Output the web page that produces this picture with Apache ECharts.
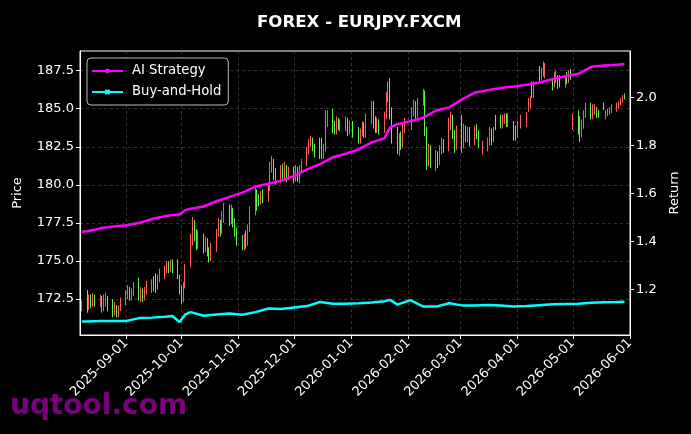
<!DOCTYPE html>
<html><head><meta charset="utf-8">
<script src="https://cdn.jsdelivr.net/npm/echarts@6/dist/echarts.min.js"></script>
<style>html,body{margin:0;padding:0;background:#000}#c{width:691px;height:434px}</style>
</head><body><div id="c"></div><script>
const candleDates=['2025-08-08',
'2025-08-11','2025-08-12','2025-08-13','2025-08-14','2025-08-15',
'2025-08-18','2025-08-19','2025-08-20','2025-08-21','2025-08-22',
'2025-08-25','2025-08-26','2025-08-27','2025-08-28','2025-08-29',
'2025-09-01','2025-09-02','2025-09-03','2025-09-04','2025-09-05',
'2025-09-08','2025-09-09','2025-09-10','2025-09-11','2025-09-12',
'2025-09-15','2025-09-16','2025-09-17','2025-09-18','2025-09-19',
'2025-09-22','2025-09-23','2025-09-24','2025-09-25','2025-09-26',
'2025-09-29','2025-09-30','2025-10-01','2025-10-02','2025-10-03',
'2025-10-06','2025-10-07','2025-10-08','2025-10-09','2025-10-10',
'2025-10-13','2025-10-14','2025-10-15','2025-10-16','2025-10-17',
'2025-10-20','2025-10-21','2025-10-22','2025-10-23','2025-10-24',
'2025-10-27','2025-10-28','2025-10-29','2025-10-30','2025-10-31',
'2025-11-03','2025-11-04','2025-11-05','2025-11-06','2025-11-07',
'2025-11-10','2025-11-11','2025-11-12','2025-11-13','2025-11-14',
'2025-11-17','2025-11-18','2025-11-19','2025-11-20','2025-11-21',
'2025-11-24','2025-11-25','2025-11-26','2025-11-27','2025-11-28',
'2025-12-01','2025-12-02','2025-12-03','2025-12-04','2025-12-05',
'2025-12-08','2025-12-09','2025-12-10','2025-12-11','2025-12-12',
'2025-12-15','2025-12-16','2025-12-17','2025-12-18','2025-12-19',
'2025-12-22','2025-12-23','2025-12-24','2025-12-25','2025-12-26',
'2025-12-29','2025-12-30','2025-12-31','2026-01-02',
'2026-01-05','2026-01-06','2026-01-07','2026-01-08','2026-01-09',
'2026-01-12','2026-01-13','2026-01-14','2026-01-15','2026-01-16',
'2026-01-19','2026-01-20','2026-01-21','2026-01-22','2026-01-23',
'2026-01-26','2026-01-27','2026-01-28','2026-01-29','2026-01-30',
'2026-02-03','2026-02-04','2026-02-05','2026-02-06',
'2026-02-09','2026-02-10','2026-02-11','2026-02-12','2026-02-13',
'2026-02-16','2026-02-17','2026-02-18','2026-02-19','2026-02-20',
'2026-02-23','2026-02-24','2026-02-25','2026-02-26','2026-02-27',
'2026-03-02','2026-03-03','2026-03-04','2026-03-05','2026-03-06',
'2026-03-09','2026-03-10','2026-03-11','2026-03-13',
'2026-03-16','2026-03-17','2026-03-18','2026-03-19','2026-03-20',
'2026-03-23','2026-03-24','2026-03-25','2026-03-26','2026-03-27',
'2026-03-30','2026-03-31','2026-04-01','2026-04-03',
'2026-04-06','2026-04-07','2026-04-08','2026-04-09','2026-04-10',
'2026-04-13','2026-04-14','2026-04-15','2026-04-16',
'2026-04-20','2026-04-21','2026-04-22','2026-04-23','2026-04-24',
'2026-04-27','2026-04-28','2026-04-29','2026-04-30','2026-05-01',
'2026-05-04','2026-05-05','2026-05-06','2026-05-07','2026-05-08',
'2026-05-11','2026-05-12','2026-05-13','2026-05-14','2026-05-15',
'2026-05-18','2026-05-19','2026-05-20','2026-05-21','2026-05-22',
'2026-05-25','2026-05-26','2026-05-27','2026-05-28','2026-05-29'];
const opens=[171.85,
173.0,171.9,172.6,172.1,172.7,
172.2,172.6,171.9,172.3,172.6,
172.3,171.6,172.0,171.5,171.8,
172.3,172.7,173.2,172.6,172.9,
173.8,172.6,173.1,172.6,173.0,
173.2,173.8,173.9,173.3,173.8,
174.0,174.4,174.8,174.5,175.0,
175.0,174.0,173.2,172.5,173.4,
174.8,176.3,177.5,176.8,176.0,
176.6,175.9,176.4,175.7,175.2,
175.8,176.8,177.5,177.0,177.8,
178.4,177.7,178.3,177.6,177.0,
176.5,175.9,176.7,176.2,177.1,
178.2,179.5,179.2,178.9,179.5,
179.1,179.8,181.0,181.5,180.8,
180.3,181.1,180.5,181.1,180.5,
181.0,180.4,181.0,180.5,181.0,
181.4,182.2,182.7,183.0,182.5,
183.0,182.8,181.9,182.4,184.0,
184.8,183.9,183.5,184.2,183.8,
183.8,184.2,183.5,184.0,
183.6,182.9,183.4,183.9,183.3,
184.2,185.3,184.3,183.6,184.1,
183.6,184.5,185.6,186.7,184.9,
183.5,182.3,183.2,182.6,183.7,
183.9,184.7,185.3,184.6,
185.4,186.0,183.6,181.5,182.4,
181.2,182.0,181.5,182.2,182.8,
182.4,184.0,184.4,183.4,182.5,
184.4,182.6,183.7,183.0,183.6,
182.9,183.7,183.4,182.2,
182.4,182.8,183.5,183.0,184.3,
184.4,183.9,184.2,184.5,184.0,
184.0,183.6,183.3,184.0,
184.0,184.9,185.2,186.6,185.9,
187.6,187.1,187.3,187.2,
186.8,186.6,186.9,187.0,187.0,
186.6,187.2,186.9,187.4,183.8,
184.7,184.2,183.3,183.9,184.6,
185.2,184.5,184.8,185.0,184.8,
185.3,184.4,184.6,184.7,184.8,
184.9,185.1,185.3,185.5,185.9];
const closes=[172.2,
171.8,172.6,172.1,172.7,172.2,
172.6,171.9,172.5,172.7,172.0,
171.6,172.1,171.5,171.9,172.4,
172.9,173.3,172.6,173.0,173.4,
172.6,173.1,172.6,173.2,173.5,
173.7,173.3,173.2,173.9,174.3,
174.6,174.8,174.5,175.0,174.4,
174.0,173.0,172.4,173.4,174.6,
176.5,177.6,176.6,175.9,176.7,
175.8,176.4,175.6,175.1,176.0,
176.9,177.6,176.9,178.0,178.5,
177.7,178.4,177.5,176.9,176.3,
175.9,176.6,176.1,177.2,178.3,
179.4,178.6,178.8,179.4,179.0,
179.8,181.2,181.7,180.6,180.2,
181.0,180.5,181.2,180.4,181.0,
180.4,181.0,180.5,181.1,181.5,
182.3,182.8,183.0,182.4,182.0,
182.0,181.9,182.5,184.3,184.6,
183.6,183.5,184.3,183.8,184.1,
184.3,183.5,184.0,183.4,
182.9,183.5,184.0,183.3,184.5,
185.2,183.9,183.6,184.2,183.5,
184.6,185.8,186.5,184.8,183.0,
182.3,183.2,182.6,183.8,184.2,
184.8,185.3,184.6,185.4,
186.0,183.5,181.5,182.4,181.6,
182.0,181.4,182.3,182.8,182.3,
184.1,184.5,183.3,182.4,183.6,
182.6,183.7,183.0,183.6,182.8,
183.7,183.2,182.6,182.7,
182.9,183.5,182.9,183.6,183.8,
183.9,184.4,184.5,184.0,184.5,
183.1,183.0,183.9,184.4,
184.6,185.5,185.6,185.9,186.5,
187.0,187.5,187.9,187.8,
186.4,187.2,187.3,186.5,186.6,
187.0,186.8,187.3,187.0,184.5,
183.5,183.2,184.0,184.7,185.0,
184.5,185.1,185.2,184.6,184.5,
185.0,184.7,184.9,185.0,185.1,
185.2,185.4,185.6,185.8,185.7];
const lows=[171.7,
171.6,171.8,171.9,172.0,172.0,
172.0,171.6,171.7,172.0,171.7,
171.3,171.4,171.3,171.3,171.7,
172.1,172.5,172.4,172.4,172.7,
172.4,172.3,172.3,172.4,172.8,
172.9,173.0,172.9,173.1,173.6,
173.8,174.2,174.2,174.3,174.2,
173.8,172.8,172.2,172.3,173.2,
174.6,176.0,176.3,175.7,175.8,
175.5,175.6,175.3,174.9,175.0,
175.6,176.6,176.6,176.8,177.5,
177.3,177.4,177.2,176.6,176.0,
175.7,175.7,175.8,176.0,176.9,
178.0,178.3,178.6,178.7,178.8,
178.9,179.6,180.8,180.3,180.0,
180.1,180.3,180.3,180.2,180.3,
180.1,180.2,180.2,180.1,180.8,
181.2,182.0,182.5,182.2,181.8,
181.7,181.7,181.7,182.2,183.8,
183.4,183.3,183.3,183.6,183.5,
183.5,183.2,183.3,183.1,
182.7,182.7,183.2,183.1,183.1,
184.0,183.7,183.4,183.4,183.3,
183.4,184.3,185.4,184.3,182.7,
182.0,181.9,182.3,182.4,183.4,
183.6,184.5,184.3,184.4,
185.2,183.2,181.0,181.2,181.1,
180.9,181.1,181.3,182.0,182.1,
182.2,183.6,183.0,182.1,182.3,
182.1,182.4,182.8,182.8,182.5,
182.6,183.0,182.4,182.0,
182.2,182.6,182.6,182.8,183.6,
183.7,183.7,184.0,183.8,183.8,
182.9,182.9,183.1,183.7,
183.8,184.8,185.0,185.7,185.7,
186.8,186.9,187.1,187.0,
186.2,186.4,186.7,186.3,186.4,
186.4,186.6,186.7,186.9,183.6,
183.3,182.8,183.1,183.7,184.4,
184.3,184.3,184.6,184.4,184.4,
184.9,184.3,184.5,184.6,184.7,
184.8,185.0,185.2,185.4,185.6];
const highs=[172.4,
173.1,172.8,172.8,172.9,172.8,
172.8,172.7,172.8,172.9,172.7,
172.5,172.3,172.1,172.1,172.6,
173.1,173.4,173.3,173.2,173.6,
173.9,173.3,173.2,173.3,173.7,
173.8,174.0,174.2,174.1,174.5,
174.7,175.0,175.0,175.1,175.1,
175.1,174.1,173.4,173.6,174.8,
176.8,177.9,177.7,177.1,177.0,
176.8,176.6,176.5,175.9,176.2,
177.1,177.8,177.7,178.3,178.8,
178.7,178.7,178.5,177.8,177.2,
176.7,176.8,177.0,177.4,178.6,
179.8,179.7,179.4,179.6,179.7,
180.0,181.5,181.9,181.7,181.1,
181.3,181.4,181.5,181.3,181.2,
181.2,181.3,181.2,181.3,181.7,
182.5,183.0,183.2,183.1,182.7,
183.1,183.1,182.7,184.9,184.9,
185.0,184.2,184.5,184.4,184.3,
184.5,184.4,184.2,184.2,
183.8,183.7,184.2,184.1,184.7,
185.5,185.5,184.5,184.4,184.3,
184.8,186.1,186.8,187.0,185.1,
183.8,183.4,183.5,184.0,184.4,
185.1,185.6,185.5,185.7,
186.3,186.2,183.8,182.7,182.6,
182.3,182.2,182.6,183.1,183.0,
184.4,184.8,184.6,183.6,183.9,
184.6,184.0,183.9,183.8,183.8,
183.9,184.0,183.6,182.9,
183.1,183.8,183.7,183.8,184.6,
184.6,184.6,184.7,184.7,184.7,
184.2,183.9,184.2,184.6,
184.8,185.7,185.8,186.8,186.8,
187.8,187.7,188.1,188.0,
186.9,187.4,187.5,187.2,187.2,
187.2,187.4,187.5,187.6,184.7,
184.9,184.5,184.3,184.9,185.4,
185.4,185.3,185.3,185.1,184.9,
185.4,184.9,185.0,185.1,185.3,
185.4,185.5,185.7,185.9,186.0];
const lineDates=['2025-08-08','2025-08-11','2025-08-18','2025-08-25','2025-09-01','2025-09-08','2025-09-15','2025-09-22','2025-09-26','2025-09-30','2025-10-03','2025-10-06','2025-10-13','2025-10-20','2025-10-27','2025-11-03','2025-11-10','2025-11-17','2025-11-24','2025-12-01','2025-12-08','2025-12-15','2025-12-22','2025-12-29','2026-01-05','2026-01-12','2026-01-19','2026-01-22','2026-01-26','2026-02-02','2026-02-09','2026-02-16','2026-02-23','2026-03-02','2026-03-09','2026-03-16','2026-03-23','2026-03-30','2026-04-06','2026-04-13','2026-04-20','2026-04-27','2026-05-04','2026-05-11','2026-05-18','2026-05-25','2026-05-29'];
const aiReturn=[1.440,1.442,1.454,1.462,1.467,1.476,1.493,1.505,1.509,1.512,1.530,1.536,1.545,1.567,1.585,1.603,1.628,1.640,1.652,1.672,1.700,1.722,1.750,1.765,1.783,1.812,1.830,1.875,1.888,1.900,1.915,1.945,1.958,1.992,2.020,2.030,2.039,2.045,2.052,2.062,2.075,2.088,2.098,2.127,2.133,2.136,2.139];
const bhReturn=[1.066,1.066,1.068,1.068,1.068,1.080,1.082,1.086,1.089,1.064,1.095,1.105,1.090,1.095,1.099,1.094,1.105,1.120,1.118,1.124,1.130,1.147,1.140,1.140,1.142,1.145,1.150,1.156,1.136,1.155,1.128,1.128,1.142,1.133,1.133,1.135,1.133,1.128,1.130,1.134,1.138,1.139,1.140,1.144,1.146,1.147,1.148];
const monthTicks=['2025-09-01','2025-10-01','2025-11-01','2025-12-01','2026-01-01','2026-02-01','2026-03-01','2026-04-01','2026-05-01','2026-06-01'];
const priceTicks=[172.5,175.0,177.5,180.0,182.5,185.0,187.5];
const returnTicks=[1.2,1.4,1.6,1.8,2.0];

const ts=d=>{const p=d.split('-');return Date.UTC(+p[0],+p[1]-1,+p[2]);};
const fmt=v=>{const t=new Date(v);const m=t.getUTCMonth()+1,dd=t.getUTCDate();return t.getUTCFullYear()+'-'+(m<10?'0':'')+m+'-'+(dd<10?'0':'')+dd;};
const monthTs=monthTicks.map(ts);
const FONT='DejaVu Sans';
const FS=13;
const chart=echarts.init(document.getElementById('c'),null,{renderer:'canvas'});
const tickStyle={show:true,length:4,lineStyle:{color:'#fff',width:1}};
const gridLine={show:true,lineStyle:{color:'#555',type:[3,3],width:0.6}};
chart.setOption({
  backgroundColor:'#000',
  animation:false,
  title:{text:'FOREX - EURJPY.FXCM',left:252,top:9,textStyle:{color:'#fff',fontFamily:FONT,fontWeight:'bold',fontSize:16.6}},
  legend:{
    orient:'vertical',left:87,top:58,padding:[5,7,5,4],itemGap:5,itemWidth:31,itemHeight:6,
    backgroundColor:'rgba(0,0,0,0.8)',borderColor:'#bbb',borderWidth:1,borderRadius:4,
    textStyle:{color:'#fff',fontFamily:FONT,fontSize:13.2,padding:[0,0,0,4],lineHeight:16},
    data:['AI Strategy','Buy-and-Hold']
  },
  grid:{left:80,right:61,top:51,bottom:99,show:true,borderColor:'#fff',borderWidth:1,backgroundColor:'#000'},
  xAxis:{
    type:'value',min:ts('2025-08-07'),max:ts('2026-06-01'),scale:true,
    axisLine:{show:true,lineStyle:{color:'#fff'}},
    axisTick:Object.assign({customValues:monthTs},tickStyle),
    splitLine:Object.assign({customValues:monthTs},gridLine),
    axisLabel:{customValues:monthTs,rotate:45,color:'#fff',fontFamily:FONT,fontSize:FS,margin:6,formatter:fmt}
  },
  yAxis:[{
    type:'value',min:170.14,max:188.79,position:'left',
    name:'Price',nameLocation:'middle',nameGap:56,nameRotate:90,
    nameTextStyle:{color:'#fff',fontFamily:FONT,fontSize:FS},
    axisLine:{show:true,lineStyle:{color:'#fff'}},
    axisTick:Object.assign({customValues:priceTicks},tickStyle),
    splitLine:Object.assign({customValues:priceTicks},gridLine),
    axisLabel:{customValues:priceTicks,color:'#fff',fontFamily:FONT,fontSize:FS,margin:6,formatter:v=>v.toFixed(1)}
  },{
    type:'value',min:1.0096,max:2.193,position:'right',
    name:'Return',nameLocation:'middle',nameGap:38,nameRotate:90,
    nameTextStyle:{color:'#fff',fontFamily:FONT,fontSize:FS},
    axisLine:{show:true,lineStyle:{color:'#fff'}},
    axisTick:Object.assign({customValues:returnTicks},tickStyle),
    splitLine:{show:false},
    axisLabel:{customValues:returnTicks,color:'#fff',fontFamily:FONT,fontSize:FS,margin:6,formatter:v=>v.toFixed(1)}
  }],
  series:[{
    type:'candlestick',name:'OHLC',xAxisIndex:0,yAxisIndex:0,
    data:candleDates.map((d,i)=>[ts(d),opens[i],closes[i],lows[i],highs[i]]),
    encode:{x:0,y:[1,2,3,4]},
    barWidth:1,
    itemStyle:{color:'#ff5a5a',color0:'#5cf545',borderColor:'#ff5a5a',borderColor0:'#5cf545',borderWidth:1},
    z:2
  },{
    type:'line',name:'AI Strategy',yAxisIndex:1,
    data:lineDates.map((d,i)=>[ts(d),aiReturn[i]]),
    showSymbol:false,symbol:'circle',symbolSize:5,
    lineStyle:{color:'#ff00ff',width:2.5},itemStyle:{color:'#ff00ff'},z:5
  },{
    type:'line',name:'Buy-and-Hold',yAxisIndex:1,
    data:lineDates.map((d,i)=>[ts(d),bhReturn[i]]),
    showSymbol:false,symbol:'rect',symbolSize:5,
    lineStyle:{color:'#00ffff',width:2.5},itemStyle:{color:'#00ffff'},z:5
  }],
  graphic:[{type:'text',left:10,top:393,z:100,
    style:{text:'uqtool.com',fill:'rgba(136,0,136,0.9)',font:'bold 28px "DejaVu Sans"'}}]
});
</script></body></html>
